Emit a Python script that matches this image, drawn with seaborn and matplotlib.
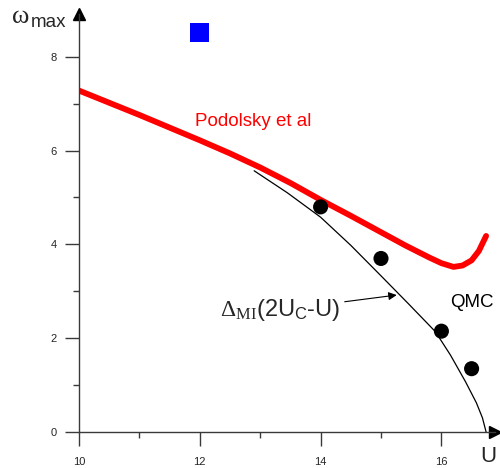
import matplotlib
matplotlib.use("Agg")
import matplotlib.pyplot as plt
import seaborn as sns
import pandas as pd

# ---- data ----
podolsky_U = [10.0, 11.0, 12.0, 12.5, 13.0, 13.5, 14.0, 14.5, 15.0, 15.4, 15.8, 16.0, 16.2, 16.35, 16.5, 16.62, 16.74]
podolsky_w = [7.28, 6.76, 6.22, 5.94, 5.64, 5.31, 4.95, 4.61, 4.26, 3.98, 3.72, 3.60, 3.52, 3.55, 3.66, 3.86, 4.18]

delta_U = [12.9, 13.45, 14.0, 14.5, 15.0, 15.45, 15.9, 16.15, 16.4, 16.58, 16.68, 16.74]
delta_w = [5.57, 5.10, 4.58, 3.98, 3.33, 2.74, 2.14, 1.64, 1.07, 0.62, 0.30, 0.0]

qmc_U = [14.0, 15.0, 16.0, 16.5]
qmc_w = [4.80, 3.70, 2.15, 1.35]

square_U = [12.0]
square_w = [8.51]

xticks_major = [10, 12, 14, 16]
xticks_minor = [11, 13, 15]
yticks_major = [0, 2, 4, 6, 8]
yticks_minor = [1, 3, 5, 7]

sns.set_style("white")
plt.rcParams["font.family"] = ["Liberation Sans", "DejaVu Sans"]
plt.rcParams["mathtext.fontset"] = "custom"
plt.rcParams["mathtext.rm"] = "Liberation Serif"
plt.rcParams["mathtext.sf"] = "Liberation Sans"
plt.rcParams["mathtext.it"] = "Liberation Serif:italic"

W, H = 500, 468
fig = plt.figure(figsize=(W / 100, H / 100), dpi=100)
ax = fig.add_axes([79 / W, 36 / H, 416 / W, 418 / H])

df_p = pd.DataFrame({"U": podolsky_U, "w": podolsky_w})
df_d = pd.DataFrame({"U": delta_U, "w": delta_w})
df_q = pd.DataFrame({"U": qmc_U, "w": qmc_w})
df_s = pd.DataFrame({"U": square_U, "w": square_w})

sns.lineplot(data=df_d, x="U", y="w", ax=ax, color="black", lw=0.9, estimator=None)
sns.lineplot(data=df_p, x="U", y="w", ax=ax, color="#ff0000", lw=4.2, estimator=None,
             solid_capstyle="round", solid_joinstyle="round")
sns.scatterplot(data=df_q, x="U", y="w", ax=ax, color="black", s=118, edgecolor="none", zorder=5)
sns.scatterplot(data=df_s, x="U", y="w", ax=ax, color="#0000ff", marker="s", s=185,
                edgecolor="none", zorder=5)

ax.set_xlim(10, 10 + 416 / 60.4)
ax.set_ylim(0, 418 / 46.9)
ax.set_xlabel("")
ax.set_ylabel("")

for s in ["top", "right"]:
    ax.spines[s].set_visible(False)
for s in ["left", "bottom"]:
    ax.spines[s].set_color("#3a3a3a")
    ax.spines[s].set_linewidth(1.0)

ax.set_xticks(xticks_major)
ax.set_xticks(xticks_minor, minor=True)
ax.set_yticks(yticks_major)
ax.set_yticks(yticks_minor, minor=True)
ax.set_xticklabels([str(v) for v in xticks_major])
ax.set_yticklabels([str(v) for v in yticks_major])
ax.tick_params(which="major", direction="out", length=10, width=1, color="#3a3a3a",
               labelsize=8, bottom=True, left=True)
ax.tick_params(axis="x", which="major", pad=8)
ax.tick_params(axis="y", which="major", pad=6)
ax.tick_params(which="minor", direction="out", length=4.5, width=1, color="#3a3a3a",
               bottom=True, left=True)

# axis arrows
ax.plot([1], [0], marker=">", ms=8, color="black", transform=ax.transAxes, clip_on=False)
ax.plot([0], [1], marker="^", ms=8, color="black", transform=ax.transAxes, clip_on=False)

# texts
ax.text(11.92, 6.61, "Podolsky et al", color="#ff0000", fontsize=13.5, ha="left", va="center")
ax.text(16.5, 2.77, "QMC", color="black", fontsize=13.5, ha="center", va="center")
ax.annotate(r"$\Delta_{\mathrm{MI}}$(2U$_{\mathsf{C}}$-U)", xy=(15.26, 2.92), xytext=(12.33, 2.60),
            fontsize=17, ha="left", va="center",
            arrowprops=dict(arrowstyle="-|>", color="black", lw=0.8, mutation_scale=12,
                            shrinkA=1, shrinkB=0))

fig.text(12 / W, 1 - 23 / H, "ω", family=["Liberation Serif", "DejaVu Serif"], fontsize=19,
         va="baseline", ha="left")
fig.text(31 / W, 1 - 27 / H, "max", fontsize=13.5, va="baseline", ha="left")
fig.text(480 / W, 1.0 / H, "U", fontsize=16, va="bottom", ha="left")

fig.savefig("out.png", dpi=100)
